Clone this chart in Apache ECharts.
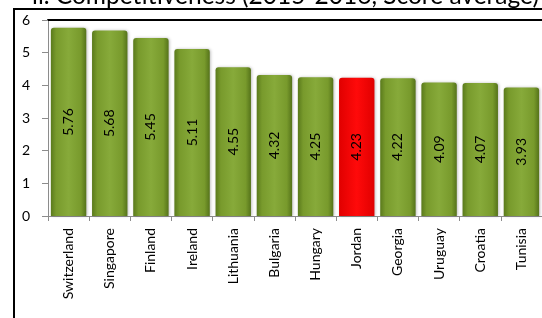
<!DOCTYPE html>
<html>
<head>
<meta charset="utf-8">
<script src="https://cdn.jsdelivr.net/npm/echarts@6/dist/echarts.min.js"></script>
<style>
  html, body { margin: 0; padding: 0; background: #fff; }
  #chart { width: 542px; height: 318px; }
</style>
</head>
<body>
<div id="chart"></div>
<script>
  // countries and scores
  var countries = ['Switzerland', 'Singapore', 'Finland', 'Ireland', 'Lithuania', 'Bulgaria',
    'Hungary', 'Jordan', 'Georgia', 'Uruguay', 'Croatia', 'Tunisia'];
  var scores = [5.76, 5.68, 5.45, 5.11, 4.55, 4.32, 4.25, 4.23, 4.22, 4.09, 4.07, 3.93];
  var highlight = 'Jordan';
  var titleText = 'ii. Competitiveness (2015-2016, Score average)';

  var FONT = 'Lato';

  var green = {
    type: 'linear', x: 0, y: 0, x2: 1, y2: 0,
    colorStops: [
      {offset: 0, color: '#5a7a1c'},
      {offset: 0.15, color: '#789a2c'},
      {offset: 0.5, color: '#87aa3a'},
      {offset: 0.85, color: '#789a2c'},
      {offset: 1, color: '#55731a'}
    ]
  };
  var red = {
    type: 'linear', x: 0, y: 0, x2: 1, y2: 0,
    colorStops: [
      {offset: 0, color: '#e00000'},
      {offset: 0.5, color: '#ff0a0a'},
      {offset: 1, color: '#e00000'}
    ]
  };

  var barData = countries.map(function (c, i) {
    return {
      value: scores[i],
      itemStyle: {color: c === highlight ? red : green}
    };
  });

  var chart = echarts.init(document.getElementById('chart'));
  chart.setOption({
    animation: false,
    title: {
      text: titleText,
      left: 27,
      top: -21,
      textStyle: {fontFamily: FONT, fontSize: 24.5, fontWeight: 'normal', color: '#000'}
    },
    grid: {left: 48, top: 20, right: -6, bottom: 102},
    xAxis: [{
      type: 'category',
      data: countries,
      axisLine: {lineStyle: {color: '#8c8c8c', width: 1}},
      axisTick: {show: true, length: 5, lineStyle: {color: '#8c8c8c'}},
      axisLabel: {
        rotate: 90, interval: 0, margin: 12,
        fontFamily: FONT, fontSize: 14, color: '#000'
      }
    }, {
      type: 'category',
      position: 'top',
      data: countries,
      axisLine: {lineStyle: {color: '#000', width: 2}},
      axisTick: {show: false},
      axisLabel: {show: false}
    }],
    yAxis: {
      type: 'value',
      min: 0, max: 6, interval: 1,
      axisLine: {show: true, lineStyle: {color: '#8c8c8c'}},
      axisTick: {show: true, length: 6, lineStyle: {color: '#8c8c8c'}},
      splitLine: {show: false},
      axisLabel: {fontFamily: FONT, fontSize: 14, color: '#000', margin: 18}
    },
    graphic: [{
      type: 'polyline',
      shape: {points: [[14, 330], [14, 9], [560, 9]]},
      style: {stroke: '#000', lineWidth: 2, fill: null}
    }],
    series: [{
      type: 'bar',
      data: barData,
      barCategoryGap: '14%',
      itemStyle: {
        borderRadius: [3, 3, 0, 0],
        shadowColor: 'rgba(0,0,0,0.25)',
        shadowBlur: 3,
        shadowOffsetX: 1
      },
      label: {
        show: true,
        position: 'inside',
        rotate: 90,
        fontFamily: FONT,
        fontSize: 14,
        color: '#000',
        formatter: function (p) { return p.value.toFixed(2); }
      }
    }]
  });
</script>
</body>
</html>
